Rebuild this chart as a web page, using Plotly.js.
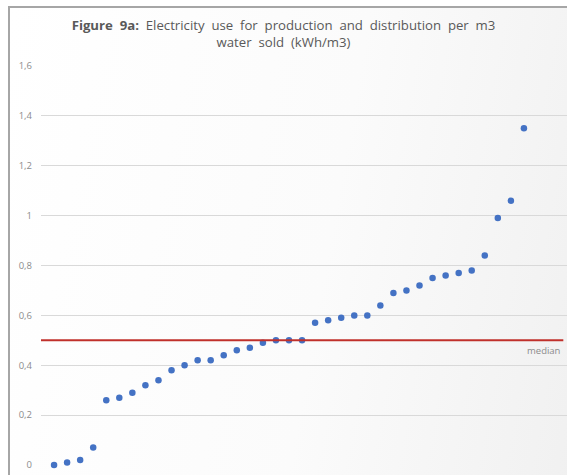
<!DOCTYPE html>
<html>
<head>
<meta charset="utf-8">
<script src="https://cdn.plot.ly/plotly-3.0.1.min.js"></script>
<style>
  html, body { margin: 0; padding: 0; width: 567px; height: 475px; overflow: hidden; background: #ffffff; }
  #wrap { position: absolute; left: 8px; top: 6px; width: 570px; height: 480px;
          border-left: 2px solid #a6a6a6; border-top: 2px solid #a6a6a6;
          background: linear-gradient(100deg, #ffffff 0%, #fbfbfb 55%, #f0f0f0 100%); }
  #chart { position: absolute; left: 0; top: 0; width: 567px; height: 475px; }
</style>
</head>
<body>
<div id="wrap"></div>
<div id="chart"></div>
<script>
// Data (sorted utilities, kWh/m3)
var rank = [];
for (var i = 1; i <= 37; i++) rank.push(i);
var electricity = [0, 0.01, 0.02, 0.07, 0.26, 0.27, 0.29, 0.32, 0.34, 0.38,
                   0.40, 0.42, 0.42, 0.44, 0.46, 0.47, 0.49, 0.50, 0.50, 0.50,
                   0.57, 0.58, 0.59, 0.60, 0.60, 0.64, 0.69, 0.70, 0.72, 0.75,
                   0.76, 0.77, 0.78, 0.84, 0.99, 1.06, 1.35];
var medianValue = 0.5;
var yTickVals = [0, 0.2, 0.4, 0.6, 0.8, 1, 1.2, 1.4, 1.6];
var yTickText = ["0", "0,2", "0,4", "0,6", "0,8", "1", "1,2", "1,4", "1,6"];

var traces = [{
  x: rank,
  y: electricity,
  type: 'scatter',
  mode: 'markers',
  marker: { color: '#4472C4', size: 6.5 },
  cliponaxis: false,
  hoverinfo: 'y'
}];

var S = '&nbsp; ';
var layout = {
  width: 567,
  height: 475,
  margin: { l: 41, r: 0, t: 66, b: 10 },
  paper_bgcolor: 'rgba(0,0,0,0)',
  plot_bgcolor: 'rgba(0,0,0,0)',
  showlegend: false,
  font: { family: 'Open Sans, sans-serif', color: '#8c8c8c' },
  title: {
    text: '<b>Figure' + S + '9a:</b>' + S + 'Electricity' + S + 'use' + S + 'for' + S + 'production' + S +
          'and' + S + 'distribution' + S + 'per' + S + 'm3<br>water' + S + 'sold' + S + '(kWh/m3)',
    font: { family: 'Open Sans, sans-serif', size: 13.2, color: '#595959' },
    x: 0.5, xanchor: 'center', y: 0.937, yanchor: 'top'
  },
  xaxis: {
    range: [0, 40.3],
    showgrid: false, zeroline: false, showline: false,
    showticklabels: false, ticks: ''
  },
  yaxis: {
    range: [0, 1.6],
    tickvals: yTickVals,
    ticktext: yTickText,
    showgrid: true, gridcolor: '#d9d9d9', gridwidth: 1,
    zeroline: false, showline: false, ticks: '',
    ticklabelstandoff: 8,
    tickfont: { size: 9.5, color: '#8c8c8c' }
  },
  shapes: [{
    type: 'line', xref: 'paper', x0: 0, x1: 0.993,
    yref: 'y', y0: medianValue, y1: medianValue,
    line: { color: '#C0302B', width: 2 }
  }],
  annotations: [{
    xref: 'paper', x: 0.993, xanchor: 'right',
    yref: 'y', y: medianValue, yanchor: 'top', yshift: -2,
    text: 'median', showarrow: false,
    font: { size: 9.5, color: '#8c8c8c' }
  }]
};

Plotly.newPlot('chart', traces, layout, { displayModeBar: false, staticPlot: true });
</script>
</body>
</html>
